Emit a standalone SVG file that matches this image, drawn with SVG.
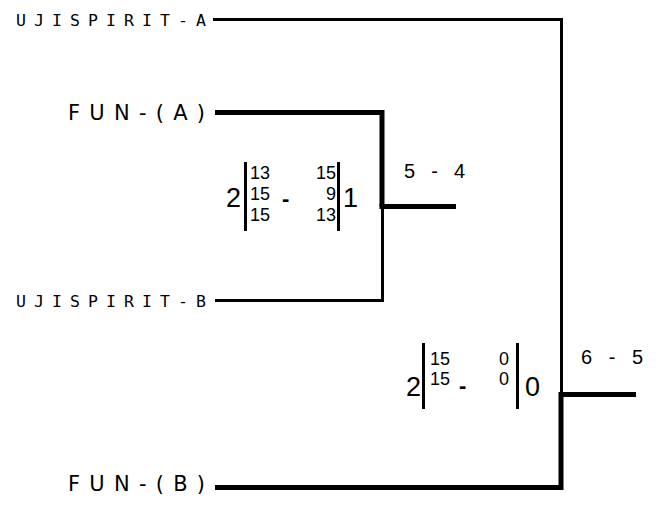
<svg xmlns="http://www.w3.org/2000/svg" width="660" height="506" viewBox="0 0 660 506">
<style>
.team{font-family:"DejaVu Sans Mono",monospace;font-size:16.5px;fill:#000}
.big{font-family:"DejaVu Sans",sans-serif;font-size:21px;fill:#000}
.sc{font-family:"Liberation Sans",Arial,sans-serif;font-size:18px;fill:#000}
.dash{font-family:"Liberation Sans",Arial,sans-serif;font-size:22px;font-weight:bold;fill:#000}
.tot{font-family:"Liberation Sans",Arial,sans-serif;font-size:27px;fill:#000}
.res{font-family:"Liberation Sans",Arial,sans-serif;font-size:20px;fill:#000}
.thin{stroke:#000;stroke-width:3;fill:none}
.thick{stroke:#000;stroke-width:5;fill:none}
.bar{stroke:#000;stroke-width:3}
</style>
<rect width="660" height="506" fill="#fff"/>
<g id="connectors">
<path class="thin" d="M213,19.5 H561.5 V394"/>
<path class="thick" d="M215,112.5 H382 V206.5"/>
<path class="thick" d="M379.5,206.5 H456"/>
<path class="thin" d="M215,300.5 H382.5 V206"/>
<path class="thick" d="M215,487.5 H561 V394.5 H636"/>
</g>
<g id="team-ujispirit-a"><text class="team" x="16" y="25.5" textLength="190" lengthAdjust="spacing">UJISPIRIT-A</text></g>
<g id="team-fun-a"><text class="big" x="68" y="120" textLength="137" lengthAdjust="spacing">FUN-(A)</text></g>
<g id="team-ujispirit-b"><text class="team" x="16" y="306.5" textLength="190" lengthAdjust="spacing">UJISPIRIT-B</text></g>
<g id="team-fun-b"><text class="big" x="68" y="491" textLength="137" lengthAdjust="spacing">FUN-(B)</text></g>
<g id="match1">
<text class="tot" x="226" y="207">2</text>
<line class="bar" x1="245.5" y1="162" x2="245.5" y2="231"/>
<text class="sc" x="250" y="179">13</text>
<text class="sc" x="250" y="200">15</text>
<text class="sc" x="250" y="221">15</text>
<text class="dash" x="282" y="206">-</text>
<text class="sc" x="336" y="179" text-anchor="end">15</text>
<text class="sc" x="336" y="200" text-anchor="end">9</text>
<text class="sc" x="336" y="221" text-anchor="end">13</text>
<line class="bar" x1="338.5" y1="162" x2="338.5" y2="231"/>
<text class="tot" x="343" y="207">1</text>
<text class="res" x="404" y="178" textLength="61" lengthAdjust="spacing">5 - 4</text>
</g>
<g id="match2">
<text class="tot" x="406" y="396">2</text>
<line class="bar" x1="423.5" y1="343" x2="423.5" y2="409"/>
<text class="sc" x="430" y="365">15</text>
<text class="sc" x="430" y="385">15</text>
<text class="dash" x="459" y="393">-</text>
<text class="sc" x="509" y="365" text-anchor="end">0</text>
<text class="sc" x="509" y="385" text-anchor="end">0</text>
<line class="bar" x1="517.5" y1="343" x2="517.5" y2="409"/>
<text class="tot" x="525" y="396">0</text>
<text class="res" x="581" y="364" textLength="62" lengthAdjust="spacing">6 - 5</text>
</g>
</svg>
